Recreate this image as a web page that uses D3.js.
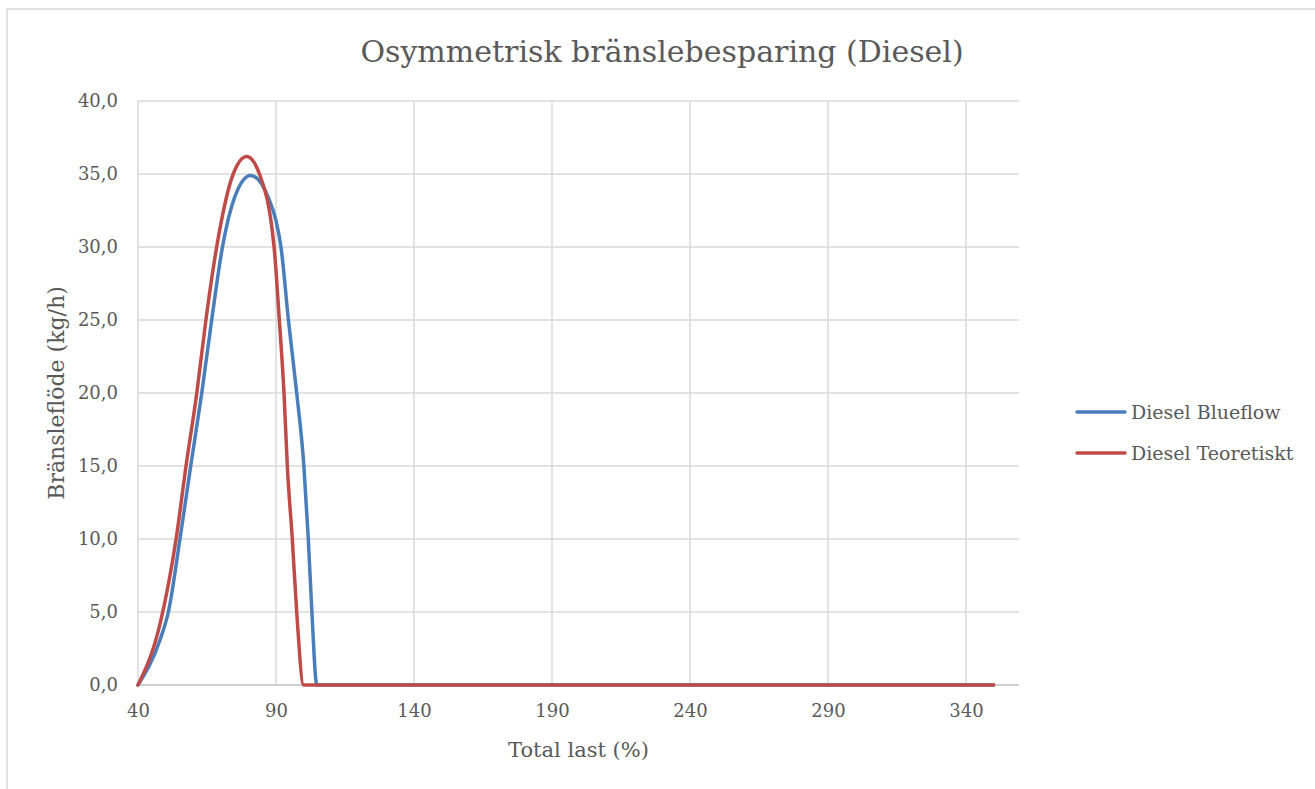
<!DOCTYPE html>
<meta charset="utf-8">
<script src="https://d3js.org/d3.v7.min.js"></script>
<style>
  body { margin: 0; background: #fff; }
  text { font-family: "DejaVu Serif", serif; fill: #595959; }
</style>
<div id="chart"></div>
<script>
// data (x = total last %, y = kg/h)
const blueflowLast = [40, 48, 51, 55.2, 59.1, 63.1, 66.7, 70.6, 75, 80.8, 87.2, 90, 91.8, 94.5, 97.5, 100.1, 101.7, 103, 104.8, 350];
const blueflowValues = [0, 3.1, 5, 10, 15, 20, 25, 30, 33.4, 34.9, 33.4, 31.8, 30, 25, 20, 15, 10, 5, 0, 0];
const teoretisktLast = [40, 48, 53.8, 57.4, 61.3, 64.6, 68.5, 74.5, 79.4, 84, 89.3, 91.2, 92.9, 94.1, 95.9, 97.5, 100, 350];
const teoretisktValues = [0, 4.2, 10, 15, 20, 25, 30, 35, 36.2, 35, 30, 25, 20, 15, 10, 5, 0, 0];
const seriesNames = ["Diesel Blueflow", "Diesel Teoretiskt"];
const xTicks = [40, 90, 140, 190, 240, 290, 340];
const yTicks = [0, 5, 10, 15, 20, 25, 30, 35, 40];

const W = 1315, H = 789;
const plot = {left: 138, right: 1019, top: 101, bottom: 685};
const colors = ["#4a7ebb", "#be4b48"];

const svg = d3.select("#chart").append("svg")
    .attr("width", W)
    .attr("height", H);

// chart frame
svg.append("rect")
    .attr("x", 7).attr("y", 9)
    .attr("width", W + 10).attr("height", H + 10)
    .attr("fill", "none")
    .attr("stroke", "#d9d9d9")
    .attr("stroke-width", 1.5);

const x = d3.scaleLinear().domain([40, 359.2]).range([plot.left, plot.right]);
const y = d3.scaleLinear().domain([0, 40]).range([plot.bottom, plot.top]);

// grid
svg.append("g")
  .selectAll("line")
  .data(yTicks.filter(d => d > 0))
  .join("line")
    .attr("x1", plot.left).attr("x2", plot.right)
    .attr("y1", d => y(d)).attr("y2", d => y(d))
    .attr("stroke", "#d9d9d9").attr("stroke-width", 1.5);

svg.append("g")
  .selectAll("line")
  .data(xTicks)
  .join("line")
    .attr("x1", d => x(d)).attr("x2", d => x(d))
    .attr("y1", plot.top).attr("y2", plot.bottom)
    .attr("stroke", "#d9d9d9").attr("stroke-width", 1.5);

// x axis
const xAxis = svg.append("g")
    .attr("transform", `translate(0, ${plot.bottom})`)
    .call(d3.axisBottom(x).tickValues(xTicks).tickSize(0).tickPadding(19));
xAxis.select(".domain").attr("stroke", "#bfbfbf").attr("stroke-width", 1.5)
    .attr("d", `M${plot.left},0H${plot.right}`);
xAxis.selectAll("text").style("font-size", "18px").style("font-family", "DejaVu Serif").attr("fill", "#595959");

// y axis
const yAxis = svg.append("g")
    .attr("transform", `translate(${plot.left}, 0)`)
    .call(d3.axisLeft(y).tickValues(yTicks).tickSize(0).tickPadding(20)
        .tickFormat(d => d3.format(".1f")(d).replace(".", ",")));
yAxis.select(".domain").remove();
yAxis.selectAll("text").style("font-size", "18px").style("font-family", "DejaVu Serif").attr("fill", "#595959");

// lines
const line = d3.line()
    .x(d => x(d[0]))
    .y(d => y(d[1]))
    .curve(d3.curveMonotoneX);

[[blueflowLast, blueflowValues], [teoretisktLast, teoretisktValues]].forEach(([xs, vals], i) => {
  svg.append("path")
      .datum(xs.map((t, j) => [t, vals[j]]))
      .attr("fill", "none")
      .attr("stroke", colors[i])
      .attr("stroke-width", 3.5)
      .attr("stroke-linejoin", "round")
      .attr("stroke-linecap", "round")
      .attr("d", line);
});

// title
svg.append("text")
    .attr("x", 662).attr("y", 62)
    .attr("text-anchor", "middle")
    .style("font-size", "30px")
    .text("Osymmetrisk bränslebesparing (Diesel)");

// axis titles
svg.append("text")
    .attr("x", (plot.left + plot.right) / 2).attr("y", 757)
    .attr("text-anchor", "middle")
    .style("font-size", "21px")
    .text("Total last (%)");

svg.append("text")
    .attr("transform", `translate(64, ${(plot.top + plot.bottom) / 2}) rotate(-90)`)
    .attr("text-anchor", "middle")
    .style("font-size", "22px")
    .text("Bränsleflöde (kg/h)");

// legend
const legend = svg.append("g");
seriesNames.forEach((name, i) => {
  const ly = 412 + i * 41;
  legend.append("line")
      .attr("x1", 1077).attr("x2", 1125)
      .attr("y1", ly).attr("y2", ly)
      .attr("stroke", colors[i]).attr("stroke-width", 3.5)
      .attr("stroke-linecap", "round");
  legend.append("text")
      .attr("x", 1131).attr("y", ly + 7)
      .style("font-size", "19px")
      .text(name);
});
</script>
